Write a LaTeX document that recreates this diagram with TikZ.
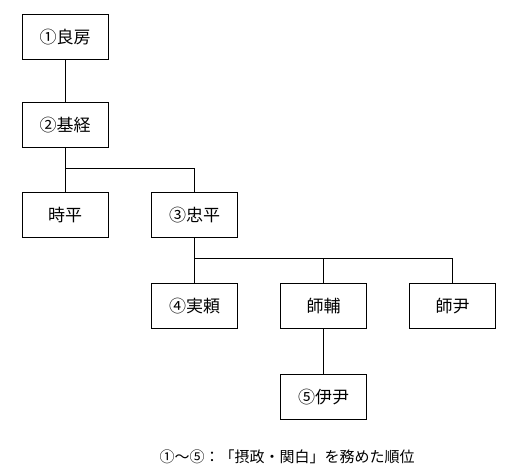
\documentclass[tikz,border=0pt]{standalone}
\usepackage{fontspec}
\setmainfont{Noto Sans CJK JP}
\begin{document}
\begin{tikzpicture}[y=1pt, x=1pt, line width=1pt,
    person/.style={draw, rectangle, minimum width=86pt, minimum height=45pt,
      inner sep=0pt, font=\fontsize{17}{19}\selectfont}]
      \useasboundingbox (0,0) rectangle (517,473);
      %% persons
      \node[person] (ryobo)     at (65,436)    {①良房};
      \node[person] (mototsune) at (65,348)    {②基経};
      \node[person] (tokihira)  at (65,258)    {時平};
      \node[person] (tadahira)  at (194.5,258) {③忠平};
      \node[person] (saneyori)  at (194.5,167) {④実頼};
      \node[person] (morosuke)  at (323.5,167) {師輔};
      \node[person] (morotada)  at (452.5,167) {師尹};
      \node[person] (koretada)  at (323.5,76)  {⑤伊尹};

      %% branch lines
      \coordinate (bus one) at (65,304);
      \coordinate (bus two) at (194.5,214);

      \draw (ryobo) -- (mototsune);
      \draw (mototsune) -- (tokihira);
      \draw (bus one) -| (tadahira.north);

      \draw (tadahira.south) -- (bus two) -| (morotada.north);
      \foreach \child in {saneyori, morosuke} {
        \draw (\child.north) -- (\child.north |- bus two); }
      \draw (morosuke) -- (koretada);

      %% caption
      \node[font=\fontsize{15}{17}\selectfont] (caption) at (287,16)
           {①～⑤：「摂政・関白」を務めた順位};
\end{tikzpicture}
\end{document}
